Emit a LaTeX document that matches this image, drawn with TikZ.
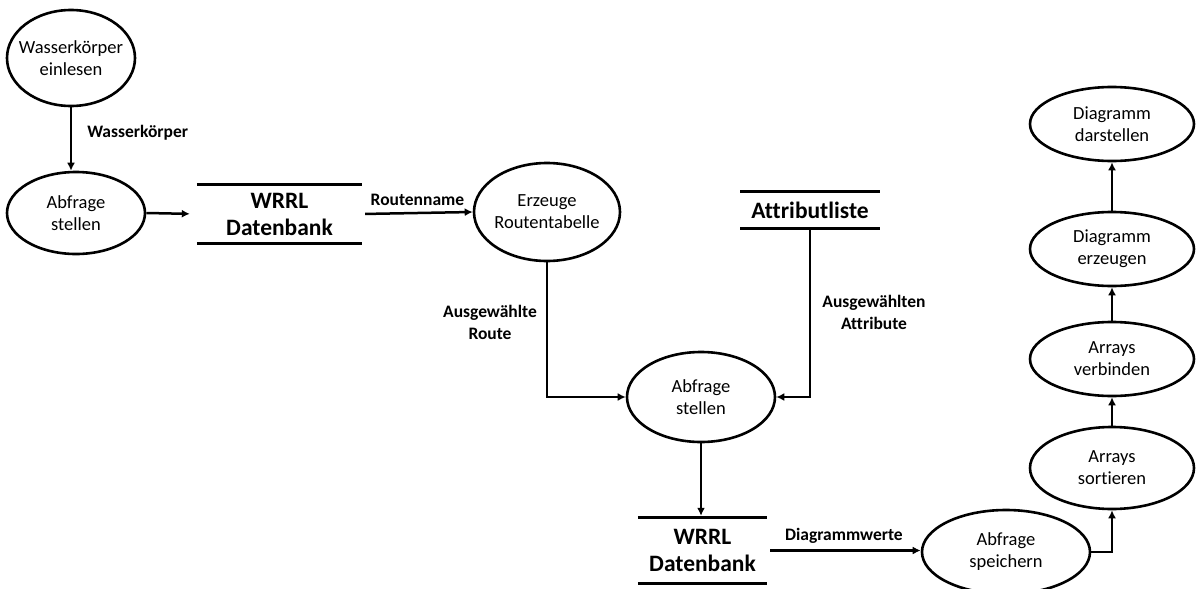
\documentclass[tikz,border=0pt]{standalone}
\usepackage{fontspec}
\setmainfont{Carlito}[Ligatures=NoCommon]
\usepackage{tikz}
\usetikzlibrary{arrows.meta}
\usetikzlibrary{shapes.geometric}
\tikzset{proc/.style = {draw, ellipse, line width=2.6pt, align=center,
                        inner xsep=-30pt, inner ysep=-15pt,
                        font=\fontsize{18.5}{22}\selectfont}}
\tikzset{store/.style = {inner sep=0, align=center,
                         font=\fontsize{23.5}{27}\selectfont\bfseries}}
\tikzset{storeline/.style = {line width=2.8pt}}
\tikzset{lbl/.style = {inner sep=0, align=center,
                       font=\fontsize{17.5}{22}\selectfont\bfseries}}
\tikzset{flow/.style = {line width=2.5pt, -{Latex[length=8pt, width=8pt]}}}

\begin{document}
\begin{tikzpicture}[x=1pt, y=-1pt]
      \useasboundingbox (0, 0) rectangle (1197, 589);

      % left part
      \node [proc, minimum width=128, minimum height=96] (e1) at (71, 58) {Wasserkörper\\einlesen};
      \node [proc, minimum width=138, minimum height=82] (e2) at (76, 213) {Abfrage\\stellen};
      \node [store, minimum width=165, minimum height=58] (d1) at (279.5, 214) {WRRL\\Datenbank};
      \draw [storeline] (d1.north west) -- (d1.north east) (d1.south west) -- (d1.south east);

      \draw [flow] (e1) -- (e1 |- e2.north) node [lbl, anchor=west, pos=0.4, xshift=15] (l1) {Wasserkörper};
      \draw [flow, shorten >=7pt] (e2.east) -- (d1.west);

      % middle part
      \node [proc, minimum width=146, minimum height=98] (e3) at (547, 212) {Erzeuge\\Routentabelle};
      \node [store, minimum width=139, minimum height=36] (d2) at (810, 210) {Attributliste};
      \draw [storeline] (d2.north west) -- (d2.north east) (d2.south west) -- (d2.south east);
      \node [proc, minimum width=148, minimum height=90] (e4) at (701, 397) {Abfrage\\stellen};
      \node [store, minimum width=129, minimum height=65] (d3) at (702.5, 550.5) {WRRL\\Datenbank};
      \draw [storeline] (d3.north west) -- (d3.north east) (d3.south west) -- (d3.south east);

      \draw [flow, shorten <=3pt] (d1.east) -- (e3.west) node [lbl, above=6, pos=0.5] (l2) {Routenname};
      \draw [flow] (e3.south) |- (e4.west);
      \node [lbl] (l3) at (490, 322) {Ausgewählte\\Route};
      \draw [flow] (d2.south) |- (e4.east);
      \node [lbl] (l4) at (874, 312) {Ausgewählten\\Attribute};
      \draw [flow, shorten >=2pt] (e4.south) -- (e4.south |- d3.north);

      % right part
      \node [proc, minimum width=168, minimum height=84] (e5) at (1006, 552) {Abfrage\\speichern};
      \node [proc, minimum width=164, minimum height=82] (e6) at (1112, 468) {Arrays\\sortieren};
      \node [proc, minimum width=164, minimum height=74] (e7) at (1112, 359) {Arrays\\verbinden};
      \node [proc, minimum width=164, minimum height=74] (e8) at (1112, 249) {Diagramm\\erzeugen};
      \node [proc, minimum width=164, minimum height=74] (e9) at (1112, 124) {Diagramm\\darstellen};

      \draw [flow, shorten <=3pt] (d3.east) -- (d3.east -| e5.west) node [lbl, above=6, pos=0.5] (l5) {Diagrammwerte};
      \draw [flow] (e5.east) -| (e6.south);
      \draw [flow] (e6) -- (e7);
      \draw [flow] (e7) -- (e8);
      \draw [flow] (e8) -- (e9);
    \end{tikzpicture}
\end{document}
